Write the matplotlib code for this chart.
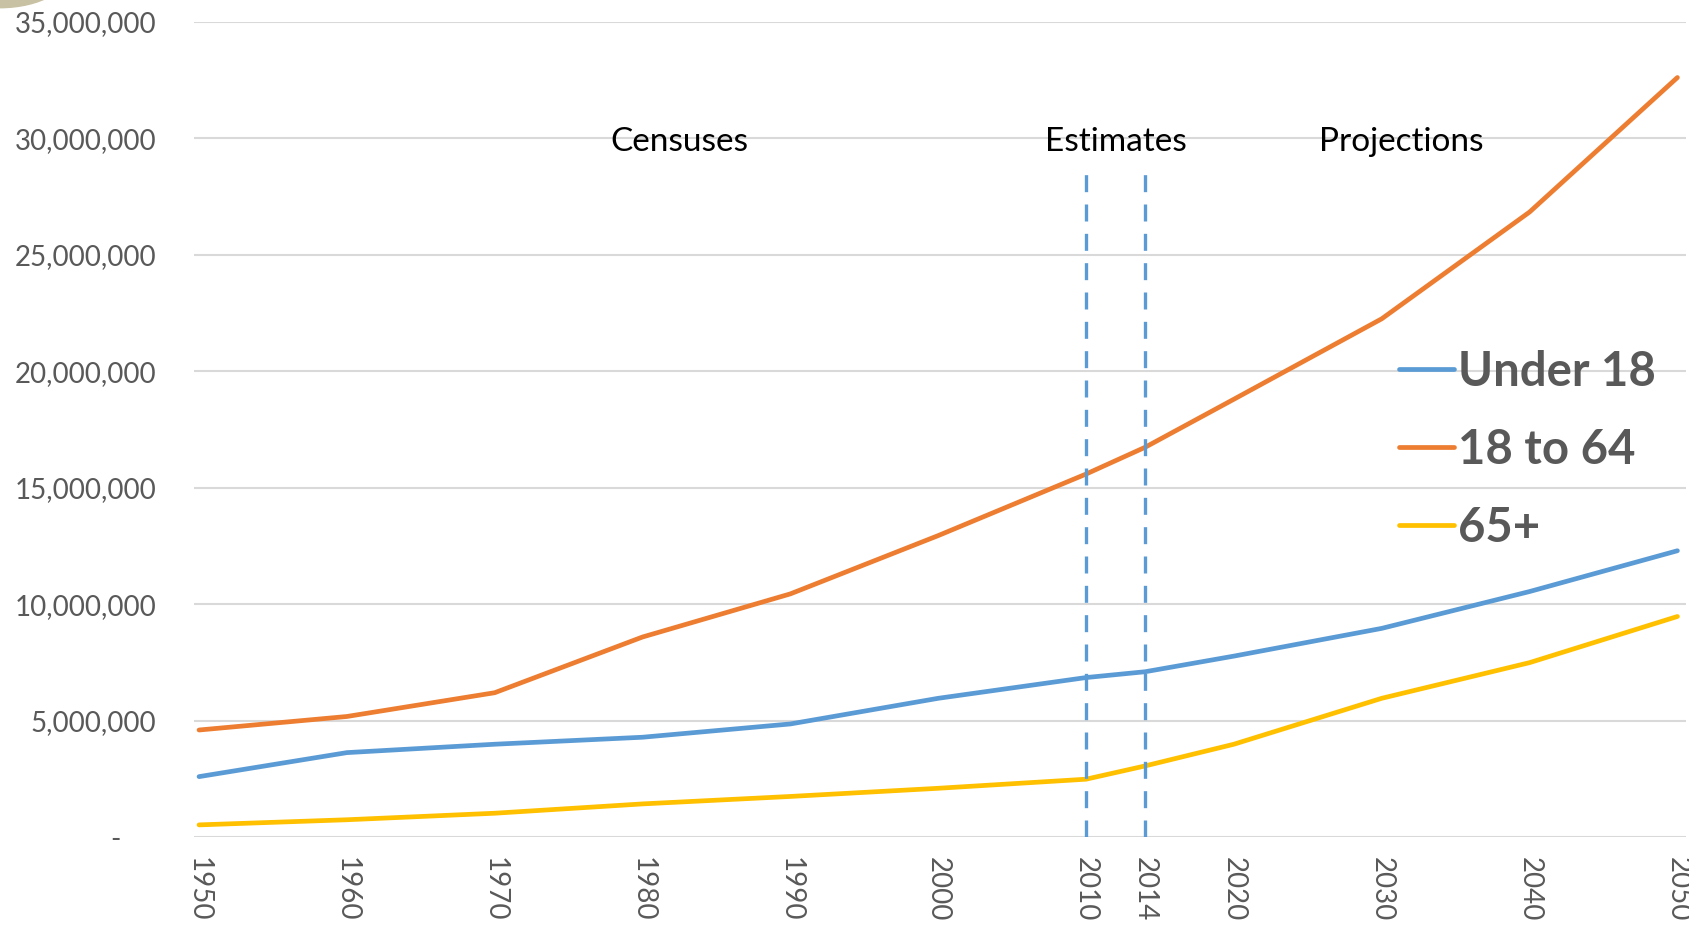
import matplotlib
matplotlib.use('Agg')
import matplotlib.pyplot as plt
from matplotlib.patches import Ellipse
from matplotlib.ticker import FuncFormatter

years = [1950, 1960, 1970, 1980, 1990, 2000, 2010, 2014, 2020, 2030, 2040, 2050]
under_18 = [2.61e6, 3.64e6, 4.00e6, 4.30e6, 4.87e6, 5.97e6, 6.86e6, 7.11e6, 7.78e6, 8.97e6, 10.55e6, 12.30e6]
age_18_64 = [4.61e6, 5.19e6, 6.21e6, 8.60e6, 10.45e6, 12.95e6, 15.59e6, 16.74e6, 18.80e6, 22.25e6, 26.83e6, 32.60e6]
age_65 = [0.54e6, 0.76e6, 1.04e6, 1.44e6, 1.76e6, 2.11e6, 2.50e6, 3.07e6, 4.00e6, 5.97e6, 7.50e6, 9.48e6]

series_names = ['Under 18', '18 to 64', '65+']
colors = ['#5B9BD5', '#ED7D31', '#FFC000']
phase_labels = ['Censuses', 'Estimates', 'Projections']
phase_x = [1982.5, 2012, 2031.3]
marker_years = [2010, 2014]

plt.rcParams['font.family'] = ['Lato', 'DejaVu Sans']

fig = plt.figure(figsize=(16.9, 9.26), dpi=100)
ax = fig.add_axes([0.1148, 0.0956, 0.883, 0.8811])

for vals, name, c in zip([under_18, age_18_64, age_65], series_names, colors):
    ax.plot(years, vals, color=c, lw=3.4, label=name, solid_capstyle='round')

for yr in marker_years:
    ax.plot([yr, yr], [0, 28.6e6], color='#5B9BD5', lw=2.4, dashes=(5.1, 3.7))

for lab, x in zip(phase_labels, phase_x):
    ax.text(x, 29.85e6, lab, ha='center', va='center', fontsize=24, color='black')

ax.set_xlim(1949.66, 2050.6)
ax.set_ylim(0, 35e6)
ax.set_xticks(years)
ax.set_xticklabels([str(y) for y in years], rotation=-90, fontsize=20, color='#595959')
ax.set_yticks([i * 5e6 for i in range(8)])
ax.yaxis.set_major_formatter(FuncFormatter(lambda v, p: '-     ' if v == 0 else f'{int(v):,}'))
ax.tick_params(axis='y', labelsize=20, labelcolor='#595959', length=0, pad=27)
ax.tick_params(axis='x', length=0, pad=14)
ax.grid(axis='y', color='#D9D9D9', lw=1.5)
ax.set_axisbelow(True)
for s in ax.spines.values():
    s.set_visible(False)

leg = ax.legend(loc='upper left', bbox_to_anchor=(0.795, 0.621), frameon=False,
                prop={'weight': 'bold', 'size': 34}, handlelength=1.15, handletextpad=0.1,
                labelspacing=0.72, borderaxespad=0)
for t in leg.get_texts():
    t.set_color('#595959')

# beige corner decoration from the slide background
fig.patches.append(Ellipse((0, 1.036), 0.086, 0.0886, transform=fig.transFigure,
                           color='#C9C1A3', zorder=0))

fig.savefig('out.png', dpi=100)
